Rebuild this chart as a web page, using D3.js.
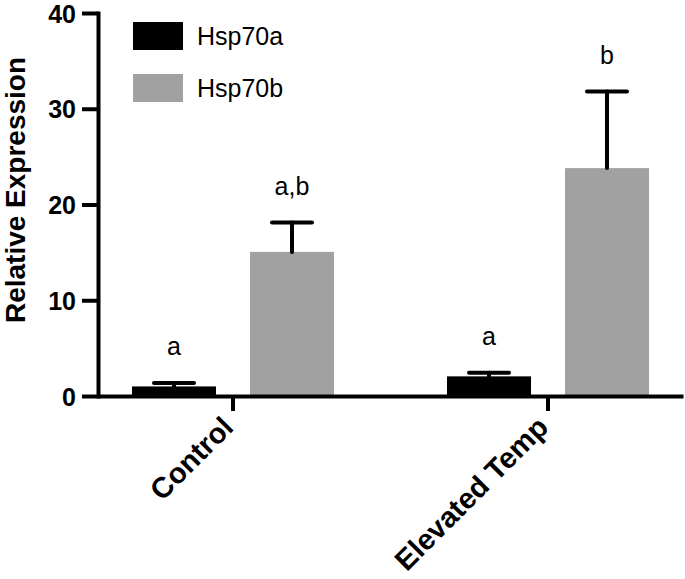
<!DOCTYPE html>
<html>
<head>
<meta charset="utf-8">
<script src="https://cdn.jsdelivr.net/npm/d3@7"></script>
<style>
  body { margin: 0; background: #fff; }
  svg { font-family: "Liberation Sans", Arial, sans-serif; }
</style>
</head>
<body>
<svg id="chart" width="685" height="579"></svg>
<script>
// data
const groups = ["Control", "Elevated Temp"];
const series = ["Hsp70a", "Hsp70b"];
const means = [[1.0, 15.05], [2.05, 23.8]];
const errors = [[0.37, 3.07], [0.38, 8.0]];
const letters = [["a", "a,b"], ["a", "b"]];
const yTicks = [0, 10, 20, 30, 40];
const colors = ["#000000", "#a1a1a1"];

const svg = d3.select("#chart");

let y = d3.scaleLinear().domain([0, 40]).range([396, 13]);
let x0 = d3.scaleBand().domain(groups).range([75.5, 705.5]);
let x1 = d3.scaleBand().domain(series).range([0, 236])
    .paddingInner(0.288).paddingOuter(0.144);

const groupCenter = g => x0(g) + x0.bandwidth() / 2;

// bars
let rows = [];
groups.forEach((g, gi) => {
    series.forEach((s, si) => {
        rows.push({ g: g, s: s, si: si, v: means[gi][si], e: errors[gi][si], lab: letters[gi][si] });
    });
});

let barX = d => groupCenter(d.g) - 118 + x1(d.s);

svg.selectAll("rect.bar")
    .data(rows)
    .enter().append("rect")
    .attr("class", "bar")
    .attr("x", barX)
    .attr("width", x1.bandwidth())
    .attr("y", d => y(d.v))
    .attr("height", d => y(0) - y(d.v))
    .attr("fill", d => colors[d.si]);

// error bars (upper only)
let eb = svg.selectAll("g.err").data(rows).enter().append("g").attr("class", "err")
    .attr("stroke", "#000").attr("stroke-width", 4).attr("stroke-linecap", "round");
eb.append("line")
    .attr("x1", d => barX(d) + x1.bandwidth() / 2)
    .attr("x2", d => barX(d) + x1.bandwidth() / 2)
    .attr("y1", d => y(d.v))
    .attr("y2", d => y(d.v + d.e));
eb.append("line")
    .attr("x1", d => barX(d) + x1.bandwidth() / 2 - 20)
    .attr("x2", d => barX(d) + x1.bandwidth() / 2 + 20)
    .attr("y1", d => y(d.v + d.e))
    .attr("y2", d => y(d.v + d.e));

// significance letters
svg.selectAll("text.sig")
    .data(rows)
    .enter().append("text")
    .attr("class", "sig")
    .attr("x", d => barX(d) + x1.bandwidth() / 2)
    .attr("y", d => y(d.v + d.e) - 28)
    .attr("text-anchor", "middle")
    .style("font-size", "25px")
    .text(d => d.lab);

// y axis
let yAxis = d3.axisLeft(y).tickValues(yTicks).tickSize(16).tickSizeOuter(0).tickPadding(6);
let gy = svg.append("g").attr("transform", "translate(98,0)").call(yAxis);
gy.select(".domain").attr("stroke-width", 4).attr("stroke-linecap", "square");
gy.selectAll(".tick line").attr("stroke-width", 4);
gy.selectAll(".tick text")
    .style("font-size", "25px").style("font-weight", "bold")
    .style("font-family", "'Liberation Sans', Arial, sans-serif")
    .attr("fill", "#000").attr("dy", "0.36em");

// x axis
let xAxis = d3.axisBottom(d3.scaleLinear().domain([0, 1]).range([98, 683]))
    .tickValues([]).tickSizeOuter(0);
let gx = svg.append("g").attr("transform", "translate(0,396)").call(xAxis);
gx.select(".domain").attr("stroke-width", 4);

svg.selectAll("line.xtick")
    .data(groups)
    .enter().append("line")
    .attr("class", "xtick")
    .attr("x1", groupCenter).attr("x2", groupCenter)
    .attr("y1", 396).attr("y2", 411)
    .attr("stroke", "#000").attr("stroke-width", 4);

svg.selectAll("text.xlab")
    .data(groups)
    .enter().append("text")
    .attr("class", "xlab")
    .attr("transform", g => "translate(" + (groupCenter(g) + 2) + ",429) rotate(-45)")
    .attr("text-anchor", "end")
    .style("font-size", "29px").style("font-weight", "bold")
    .text(g => g);

// y title
svg.append("text")
    .attr("transform", "translate(25,190) rotate(-90)")
    .attr("text-anchor", "middle")
    .style("font-size", "28px").style("font-weight", "bold")
    .text("Relative Expression");

// legend
let lg = svg.selectAll("g.legend").data(series).enter().append("g").attr("class", "legend")
    .attr("transform", (s, i) => "translate(133," + (22 + i * 52) + ")");
lg.append("rect").attr("width", 50).attr("height", 28).attr("fill", (s, i) => colors[i]);
lg.append("text").attr("x", 64).attr("y", 23).style("font-size", "25px").text(s => s);
</script>
</body>
</html>
